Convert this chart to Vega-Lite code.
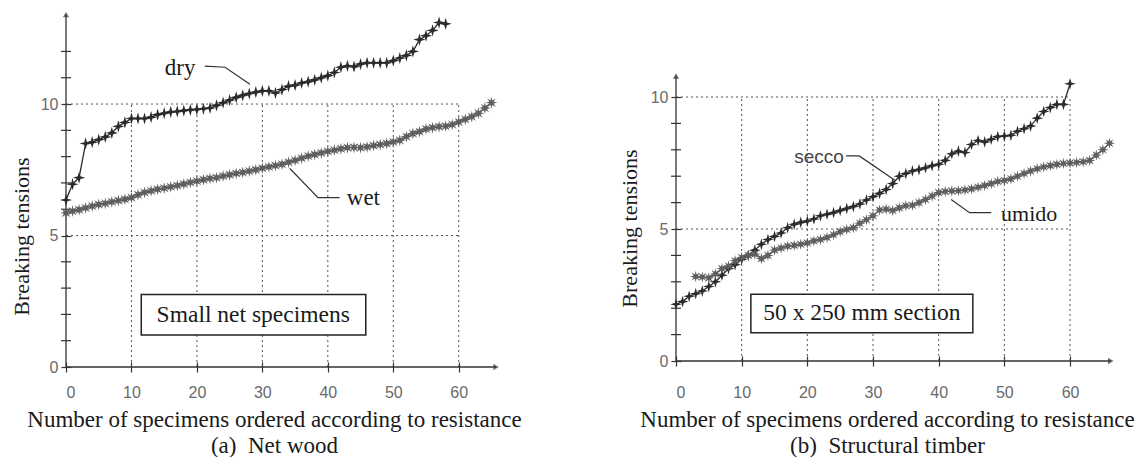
{
"$schema":"https://vega.github.io/schema/vega-lite/v6.json",
"background":"white",
"padding":{"left":10,"top":11,"right":0,"bottom":0},
"spacing":96,
"config":{"view":{"stroke":null},"font":"Liberation Serif"},
"resolve":{"scale":{"x":"independent","y":"independent","color":"independent","shape":"independent"}},
"datasets":{
"L":[
{"s":"dry","x":0,"y":6.35},{"s":"dry","x":1,"y":6.95},{"s":"dry","x":2,"y":7.2},{"s":"dry","x":3,"y":8.5},{"s":"dry","x":4,"y":8.55},{"s":"dry","x":5,"y":8.65},{"s":"dry","x":6,"y":8.75},{"s":"dry","x":7,"y":8.9},{"s":"dry","x":8,"y":9.15},{"s":"dry","x":9,"y":9.3},{"s":"dry","x":10,"y":9.45},{"s":"dry","x":11,"y":9.45},{"s":"dry","x":12,"y":9.45},{"s":"dry","x":13,"y":9.5},{"s":"dry","x":14,"y":9.6},{"s":"dry","x":15,"y":9.65},{"s":"dry","x":16,"y":9.7},{"s":"dry","x":17,"y":9.72},{"s":"dry","x":18,"y":9.75},{"s":"dry","x":19,"y":9.78},{"s":"dry","x":20,"y":9.8},{"s":"dry","x":21,"y":9.82},{"s":"dry","x":22,"y":9.85},{"s":"dry","x":23,"y":9.95},{"s":"dry","x":24,"y":10.05},{"s":"dry","x":25,"y":10.15},{"s":"dry","x":26,"y":10.25},{"s":"dry","x":27,"y":10.33},{"s":"dry","x":28,"y":10.4},{"s":"dry","x":29,"y":10.45},{"s":"dry","x":30,"y":10.5},{"s":"dry","x":31,"y":10.5},{"s":"dry","x":32,"y":10.42},{"s":"dry","x":33,"y":10.55},{"s":"dry","x":34,"y":10.68},{"s":"dry","x":35,"y":10.72},{"s":"dry","x":36,"y":10.8},{"s":"dry","x":37,"y":10.85},{"s":"dry","x":38,"y":10.92},{"s":"dry","x":39,"y":11.0},{"s":"dry","x":40,"y":11.08},{"s":"dry","x":41,"y":11.2},{"s":"dry","x":42,"y":11.4},{"s":"dry","x":43,"y":11.45},{"s":"dry","x":44,"y":11.42},{"s":"dry","x":45,"y":11.52},{"s":"dry","x":46,"y":11.57},{"s":"dry","x":47,"y":11.57},{"s":"dry","x":48,"y":11.57},{"s":"dry","x":49,"y":11.57},{"s":"dry","x":50,"y":11.65},{"s":"dry","x":51,"y":11.75},{"s":"dry","x":52,"y":11.85},{"s":"dry","x":53,"y":12.0},{"s":"dry","x":54,"y":12.45},{"s":"dry","x":55,"y":12.6},{"s":"dry","x":56,"y":12.8},{"s":"dry","x":57,"y":13.1},{"s":"dry","x":58,"y":13.05},
{"s":"wet","x":0,"y":5.86},{"s":"wet","x":1,"y":5.93},{"s":"wet","x":2,"y":5.98},{"s":"wet","x":3,"y":6.05},{"s":"wet","x":4,"y":6.12},{"s":"wet","x":5,"y":6.18},{"s":"wet","x":6,"y":6.22},{"s":"wet","x":7,"y":6.28},{"s":"wet","x":8,"y":6.33},{"s":"wet","x":9,"y":6.38},{"s":"wet","x":10,"y":6.44},{"s":"wet","x":11,"y":6.55},{"s":"wet","x":12,"y":6.64},{"s":"wet","x":13,"y":6.7},{"s":"wet","x":14,"y":6.76},{"s":"wet","x":15,"y":6.8},{"s":"wet","x":16,"y":6.85},{"s":"wet","x":17,"y":6.9},{"s":"wet","x":18,"y":6.96},{"s":"wet","x":19,"y":7.02},{"s":"wet","x":20,"y":7.07},{"s":"wet","x":21,"y":7.12},{"s":"wet","x":22,"y":7.17},{"s":"wet","x":23,"y":7.2},{"s":"wet","x":24,"y":7.26},{"s":"wet","x":25,"y":7.31},{"s":"wet","x":26,"y":7.36},{"s":"wet","x":27,"y":7.4},{"s":"wet","x":28,"y":7.45},{"s":"wet","x":29,"y":7.5},{"s":"wet","x":30,"y":7.56},{"s":"wet","x":31,"y":7.61},{"s":"wet","x":32,"y":7.66},{"s":"wet","x":33,"y":7.71},{"s":"wet","x":34,"y":7.79},{"s":"wet","x":35,"y":7.86},{"s":"wet","x":36,"y":7.94},{"s":"wet","x":37,"y":8.02},{"s":"wet","x":38,"y":8.08},{"s":"wet","x":39,"y":8.14},{"s":"wet","x":40,"y":8.2},{"s":"wet","x":41,"y":8.25},{"s":"wet","x":42,"y":8.3},{"s":"wet","x":43,"y":8.34},{"s":"wet","x":44,"y":8.35},{"s":"wet","x":45,"y":8.34},{"s":"wet","x":46,"y":8.37},{"s":"wet","x":47,"y":8.42},{"s":"wet","x":48,"y":8.46},{"s":"wet","x":49,"y":8.5},{"s":"wet","x":50,"y":8.56},{"s":"wet","x":51,"y":8.62},{"s":"wet","x":52,"y":8.76},{"s":"wet","x":53,"y":8.88},{"s":"wet","x":54,"y":8.95},{"s":"wet","x":55,"y":9.05},{"s":"wet","x":56,"y":9.1},{"s":"wet","x":57,"y":9.14},{"s":"wet","x":58,"y":9.16},{"s":"wet","x":59,"y":9.22},{"s":"wet","x":60,"y":9.32},{"s":"wet","x":61,"y":9.42},{"s":"wet","x":62,"y":9.52},{"s":"wet","x":63,"y":9.65},{"s":"wet","x":64,"y":9.85},{"s":"wet","x":65,"y":10.05}
],
"R":[
{"s":"secco","x":0,"y":2.15},{"s":"secco","x":1,"y":2.25},{"s":"secco","x":2,"y":2.45},{"s":"secco","x":3,"y":2.55},{"s":"secco","x":4,"y":2.65},{"s":"secco","x":5,"y":2.82},{"s":"secco","x":6,"y":3.0},{"s":"secco","x":7,"y":3.25},{"s":"secco","x":8,"y":3.5},{"s":"secco","x":9,"y":3.65},{"s":"secco","x":10,"y":3.85},{"s":"secco","x":11,"y":4.0},{"s":"secco","x":12,"y":4.2},{"s":"secco","x":13,"y":4.42},{"s":"secco","x":14,"y":4.6},{"s":"secco","x":15,"y":4.72},{"s":"secco","x":16,"y":4.85},{"s":"secco","x":17,"y":5.05},{"s":"secco","x":18,"y":5.18},{"s":"secco","x":19,"y":5.25},{"s":"secco","x":20,"y":5.3},{"s":"secco","x":21,"y":5.38},{"s":"secco","x":22,"y":5.5},{"s":"secco","x":23,"y":5.56},{"s":"secco","x":24,"y":5.62},{"s":"secco","x":25,"y":5.7},{"s":"secco","x":26,"y":5.78},{"s":"secco","x":27,"y":5.85},{"s":"secco","x":28,"y":5.95},{"s":"secco","x":29,"y":6.1},{"s":"secco","x":30,"y":6.22},{"s":"secco","x":31,"y":6.35},{"s":"secco","x":32,"y":6.5},{"s":"secco","x":33,"y":6.72},{"s":"secco","x":34,"y":7.0},{"s":"secco","x":35,"y":7.1},{"s":"secco","x":36,"y":7.2},{"s":"secco","x":37,"y":7.25},{"s":"secco","x":38,"y":7.32},{"s":"secco","x":39,"y":7.4},{"s":"secco","x":40,"y":7.45},{"s":"secco","x":41,"y":7.6},{"s":"secco","x":42,"y":7.85},{"s":"secco","x":43,"y":7.95},{"s":"secco","x":44,"y":7.9},{"s":"secco","x":45,"y":8.2},{"s":"secco","x":46,"y":8.35},{"s":"secco","x":47,"y":8.3},{"s":"secco","x":48,"y":8.4},{"s":"secco","x":49,"y":8.5},{"s":"secco","x":50,"y":8.52},{"s":"secco","x":51,"y":8.55},{"s":"secco","x":52,"y":8.7},{"s":"secco","x":53,"y":8.8},{"s":"secco","x":54,"y":8.9},{"s":"secco","x":55,"y":9.2},{"s":"secco","x":56,"y":9.45},{"s":"secco","x":57,"y":9.6},{"s":"secco","x":58,"y":9.72},{"s":"secco","x":59,"y":9.72},{"s":"secco","x":60,"y":10.5},
{"s":"umido","x":3,"y":3.2},{"s":"umido","x":4,"y":3.18},{"s":"umido","x":5,"y":3.15},{"s":"umido","x":6,"y":3.3},{"s":"umido","x":7,"y":3.5},{"s":"umido","x":8,"y":3.6},{"s":"umido","x":9,"y":3.8},{"s":"umido","x":10,"y":3.92},{"s":"umido","x":11,"y":4.0},{"s":"umido","x":12,"y":4.05},{"s":"umido","x":13,"y":3.88},{"s":"umido","x":14,"y":4.0},{"s":"umido","x":15,"y":4.2},{"s":"umido","x":16,"y":4.28},{"s":"umido","x":17,"y":4.35},{"s":"umido","x":18,"y":4.38},{"s":"umido","x":19,"y":4.42},{"s":"umido","x":20,"y":4.47},{"s":"umido","x":21,"y":4.55},{"s":"umido","x":22,"y":4.6},{"s":"umido","x":23,"y":4.68},{"s":"umido","x":24,"y":4.78},{"s":"umido","x":25,"y":4.9},{"s":"umido","x":26,"y":4.98},{"s":"umido","x":27,"y":5.05},{"s":"umido","x":28,"y":5.22},{"s":"umido","x":29,"y":5.35},{"s":"umido","x":30,"y":5.5},{"s":"umido","x":31,"y":5.72},{"s":"umido","x":32,"y":5.75},{"s":"umido","x":33,"y":5.7},{"s":"umido","x":34,"y":5.8},{"s":"umido","x":35,"y":5.88},{"s":"umido","x":36,"y":5.9},{"s":"umido","x":37,"y":6.0},{"s":"umido","x":38,"y":6.12},{"s":"umido","x":39,"y":6.25},{"s":"umido","x":40,"y":6.38},{"s":"umido","x":41,"y":6.42},{"s":"umido","x":42,"y":6.44},{"s":"umido","x":43,"y":6.45},{"s":"umido","x":44,"y":6.48},{"s":"umido","x":45,"y":6.52},{"s":"umido","x":46,"y":6.58},{"s":"umido","x":47,"y":6.65},{"s":"umido","x":48,"y":6.72},{"s":"umido","x":49,"y":6.8},{"s":"umido","x":50,"y":6.84},{"s":"umido","x":51,"y":6.9},{"s":"umido","x":52,"y":7.0},{"s":"umido","x":53,"y":7.1},{"s":"umido","x":54,"y":7.2},{"s":"umido","x":55,"y":7.28},{"s":"umido","x":56,"y":7.35},{"s":"umido","x":57,"y":7.4},{"s":"umido","x":58,"y":7.45},{"s":"umido","x":59,"y":7.48},{"s":"umido","x":60,"y":7.5},{"s":"umido","x":61,"y":7.52},{"s":"umido","x":62,"y":7.55},{"s":"umido","x":63,"y":7.6},{"s":"umido","x":64,"y":7.8},{"s":"umido","x":65,"y":8.0},{"s":"umido","x":66,"y":8.25}
],
"grid":[{"x":10,"x2":10,"y":0,"y2":10},{"x":20,"x2":20,"y":0,"y2":10},{"x":30,"x2":30,"y":0,"y2":10},{"x":40,"x2":40,"y":0,"y2":10},{"x":50,"x2":50,"y":0,"y2":10},{"x":60,"x2":60,"y":0,"y2":10},{"x":0,"x2":60,"y":5,"y2":5},{"x":0,"x2":60,"y":10,"y2":10}],
"mtL":[{"x":0,"y":1},{"x":0,"y":2},{"x":0,"y":3},{"x":0,"y":4},{"x":0,"y":6},{"x":0,"y":7},{"x":0,"y":8},{"x":0,"y":9},{"x":0,"y":11},{"x":0,"y":12}],
"mtR":[{"x":0,"y":1},{"x":0,"y":2},{"x":0,"y":3},{"x":0,"y":4},{"x":0,"y":6},{"x":0,"y":7},{"x":0,"y":8},{"x":0,"y":9}],
"axL":[{"x":0,"x2":0,"y":0,"y2":13.4},{"x":0,"x2":65.7,"y":0,"y2":0}],
"axR":[{"x":0,"x2":0,"y":0,"y2":10.8},{"x":0,"x2":66.2,"y":0,"y2":0}],
"arL":[{"x":0,"y":13.4,"shape":"triangle-up"},{"x":65.7,"y":0,"shape":"triangle-right"}],
"arR":[{"x":0,"y":10.8,"shape":"triangle-up"},{"x":66.2,"y":0,"shape":"triangle-right"}],
"boxL":[{"x":11.5,"x2":45.8,"y":1.22,"y2":2.76,"tx":28.6,"ty":1.99,"t":"Small net specimens"}],
"boxR":[{"x":11.4,"x2":45.2,"y":1.07,"y2":2.53,"tx":28.3,"ty":1.8,"t":"50 x 250 mm section"}],
"ldL":[{"id":"d","o":0,"x":21.2,"y":11.44},{"id":"d","o":1,"x":24.3,"y":11.4},{"id":"d","o":2,"x":28.1,"y":10.75},{"id":"w","o":0,"x":34.2,"y":7.55},{"id":"w","o":1,"x":38.5,"y":6.44},{"id":"w","o":2,"x":41.8,"y":6.44}],
"ldR":[{"id":"s","o":0,"x":25.9,"y":7.77},{"id":"s","o":1,"x":27.9,"y":7.77},{"id":"s","o":2,"x":33.5,"y":6.82},{"id":"u","o":0,"x":41.9,"y":6.12},{"id":"u","o":1,"x":44.7,"y":5.62},{"id":"u","o":2,"x":48,"y":5.62}],
"labL":[{"x":15.1,"y":11.38,"t":"dry"},{"x":42.9,"y":6.44,"t":"wet"}],
"labR":[{"x":49.5,"y":5.56,"t":"umido"}],
"labR2":[{"x":18,"y":7.73,"t":"secco"}]
},
"hconcat":[
{
"width":432,"height":355,
"layer":[
{"data":{"name":"grid"},"mark":{"type":"rule","strokeDash":[2,3],"color":"#555","strokeWidth":1},
"encoding":{
"x":{"field":"x","type":"quantitative","scale":{"domain":[0,66],"nice":false,"zero":false},
"axis":{"values":[0,10,20,30,40,50,60],"labelOverlap":false,"offset":-5,"tickSize":10,"domain":false,"grid":false,"labelPadding":12,"labelFont":"Liberation Sans","labelFontSize":16,"labelColor":"#6a6a6a","tickColor":"#333","tickWidth":1.2,"title":["Number of specimens ordered according to resistance","(a)\u00a0\u00a0Net wood"],"titleFont":"Liberation Serif","titleFontSize":23,"titleFontWeight":"normal","titleColor":"#1a1a1a","titlePadding":8,"titleLineHeight":26,"titleX":208}},
"x2":{"field":"x2"},
"y":{"field":"y","type":"quantitative","scale":{"domain":[0,13.5],"nice":false,"zero":false},
"axis":{"values":[0,5,10],"labelOverlap":false,"offset":-5,"tickSize":10,"domain":false,"grid":false,"labelPadding":3,"labelFont":"Liberation Sans","labelFontSize":16,"labelColor":"#6a6a6a","tickColor":"#333","tickWidth":1.2,"title":"Breaking tensions","titleFont":"Liberation Serif","titleFontSize":22,"titleFontWeight":"normal","titleColor":"#1a1a1a","titleX":-50,"titleY":224,"titleBaseline":"middle"}},
"y2":{"field":"y2"}}},
{"data":{"name":"axL"},"mark":{"type":"rule","color":"#333","strokeWidth":1.3},
"encoding":{"x":{"field":"x","type":"quantitative","scale":{"domain":[0,66],"nice":false,"zero":false}},"x2":{"field":"x2"},"y":{"field":"y","type":"quantitative","scale":{"domain":[0,13.5],"nice":false,"zero":false}},"y2":{"field":"y2"}}},
{"data":{"name":"mtL"},"mark":{"type":"tick","orient":"horizontal","size":10,"thickness":1.2,"color":"#333","opacity":1},
"encoding":{"x":{"field":"x","type":"quantitative","scale":{"domain":[0,66],"nice":false,"zero":false}},"y":{"field":"y","type":"quantitative","scale":{"domain":[0,13.5],"nice":false,"zero":false}}}},
{"data":{"name":"arL"},"mark":{"type":"point","filled":true,"color":"#333","size":40,"strokeWidth":0},
"encoding":{"x":{"field":"x","type":"quantitative","scale":{"domain":[0,66],"nice":false,"zero":false}},"y":{"field":"y","type":"quantitative","scale":{"domain":[0,13.5],"nice":false,"zero":false}},"shape":{"field":"shape","type":"nominal","scale":null}}},
{"data":{"name":"L"},"mark":{"type":"line","strokeWidth":1.3},
"encoding":{"x":{"field":"x","type":"quantitative","scale":{"domain":[0,66],"nice":false,"zero":false}},"y":{"field":"y","type":"quantitative","scale":{"domain":[0,13.5],"nice":false,"zero":false}},"color":{"field":"s","type":"nominal","scale":{"domain":["dry","wet"],"range":["#2b2b2b","#5e5e5e"]},"legend":null},"detail":{"field":"s"}}},
{"data":{"name":"L"},"mark":{"type":"point","filled":true,"opacity":1,"strokeWidth":0},
"encoding":{"x":{"field":"x","type":"quantitative","scale":{"domain":[0,66],"nice":false,"zero":false}},"y":{"field":"y","type":"quantitative","scale":{"domain":[0,13.5],"nice":false,"zero":false}},"color":{"field":"s","type":"nominal","scale":{"domain":["dry","wet"],"range":["#2b2b2b","#5e5e5e"]},"legend":null},"shape":{"field":"s","type":"nominal","scale":{"domain":["dry","wet"],"range":["M0,-1L0.22,-0.22L1,0L0.22,0.22L0,1L-0.22,0.22L-1,0L-0.22,-0.22Z","M0,-1L0.15,-0.36L0.71,-0.71L0.36,-0.15L1,0L0.36,0.15L0.71,0.71L0.15,0.36L0,1L-0.15,0.36L-0.71,0.71L-0.36,0.15L-1,0L-0.36,-0.15L-0.71,-0.71L-0.15,-0.36Z"]},"legend":null},"size":{"field":"s","type":"nominal","scale":{"domain":["dry","wet"],"range":[150,130]},"legend":null}}},
{"data":{"name":"boxL"},"mark":{"type":"rect","fill":"white","stroke":"#222","strokeWidth":1.5},
"encoding":{"x":{"field":"x","type":"quantitative","scale":{"domain":[0,66],"nice":false,"zero":false}},"x2":{"field":"x2"},"y":{"field":"y","type":"quantitative","scale":{"domain":[0,13.5],"nice":false,"zero":false}},"y2":{"field":"y2"}}},
{"data":{"name":"boxL"},"mark":{"type":"text","font":"Liberation Serif","fontSize":23.5,"color":"#1a1a1a","align":"center","baseline":"middle"},
"encoding":{"x":{"field":"tx","type":"quantitative","scale":{"domain":[0,66],"nice":false,"zero":false}},"y":{"field":"ty","type":"quantitative","scale":{"domain":[0,13.5],"nice":false,"zero":false}},"text":{"field":"t"}}},
{"data":{"name":"ldL"},"mark":{"type":"line","color":"#333","strokeWidth":1.2},
"encoding":{"x":{"field":"x","type":"quantitative","scale":{"domain":[0,66],"nice":false,"zero":false}},"y":{"field":"y","type":"quantitative","scale":{"domain":[0,13.5],"nice":false,"zero":false}},"detail":{"field":"id"},"order":{"field":"o"}}},
{"data":{"name":"labL"},"mark":{"type":"text","font":"Liberation Serif","fontSize":23,"color":"#1a1a1a","align":"left","baseline":"middle"},
"encoding":{"x":{"field":"x","type":"quantitative","scale":{"domain":[0,66],"nice":false,"zero":false}},"y":{"field":"y","type":"quantitative","scale":{"domain":[0,13.5],"nice":false,"zero":false}},"text":{"field":"t"}}}
]
},
{
"width":440,"height":355,
"layer":[
{"data":{"name":"grid"},"mark":{"type":"rule","strokeDash":[2,3],"color":"#555","strokeWidth":1},
"encoding":{
"x":{"field":"x","type":"quantitative","scale":{"domain":[0,67],"nice":false,"zero":false},
"axis":{"values":[0,10,20,30,40,50,60],"labelOverlap":false,"offset":-11,"tickSize":10,"domain":false,"grid":false,"labelPadding":18,"labelFont":"Liberation Sans","labelFontSize":16,"labelColor":"#6a6a6a","tickColor":"#333","tickWidth":1.2,"title":["Number of specimens ordered according to resistance","(b)\u00a0\u00a0Structural timber"],"titleFont":"Liberation Serif","titleFontSize":23,"titleFontWeight":"normal","titleColor":"#1a1a1a","titlePadding":8,"titleLineHeight":26,"titleX":211}},
"x2":{"field":"x2"},
"y":{"field":"y","type":"quantitative","scale":{"domain":[-0.227,13.22],"nice":false,"zero":false},
"axis":{"values":[0,5,10],"labelOverlap":false,"offset":-5,"tickSize":10,"domain":false,"grid":false,"labelPadding":3,"labelFont":"Liberation Sans","labelFontSize":16,"labelColor":"#6a6a6a","tickColor":"#333","tickWidth":1.2,"title":"Breaking tensions","titleFont":"Liberation Serif","titleFontSize":22,"titleFontWeight":"normal","titleColor":"#1a1a1a","titleX":-52,"titleY":216,"titleBaseline":"middle"}},
"y2":{"field":"y2"}}},
{"data":{"name":"axR"},"mark":{"type":"rule","color":"#333","strokeWidth":1.3},
"encoding":{"x":{"field":"x","type":"quantitative","scale":{"domain":[0,67],"nice":false,"zero":false}},"x2":{"field":"x2"},"y":{"field":"y","type":"quantitative","scale":{"domain":[-0.227,13.22],"nice":false,"zero":false}},"y2":{"field":"y2"}}},
{"data":{"name":"mtR"},"mark":{"type":"tick","orient":"horizontal","size":10,"thickness":1.2,"color":"#333","opacity":1},
"encoding":{"x":{"field":"x","type":"quantitative","scale":{"domain":[0,67],"nice":false,"zero":false}},"y":{"field":"y","type":"quantitative","scale":{"domain":[-0.227,13.22],"nice":false,"zero":false}}}},
{"data":{"name":"arR"},"mark":{"type":"point","filled":true,"color":"#333","size":40,"strokeWidth":0},
"encoding":{"x":{"field":"x","type":"quantitative","scale":{"domain":[0,67],"nice":false,"zero":false}},"y":{"field":"y","type":"quantitative","scale":{"domain":[-0.227,13.22],"nice":false,"zero":false}},"shape":{"field":"shape","type":"nominal","scale":null}}},
{"data":{"name":"R"},"mark":{"type":"line","strokeWidth":1.3},
"encoding":{"x":{"field":"x","type":"quantitative","scale":{"domain":[0,67],"nice":false,"zero":false}},"y":{"field":"y","type":"quantitative","scale":{"domain":[-0.227,13.22],"nice":false,"zero":false}},"color":{"field":"s","type":"nominal","scale":{"domain":["secco","umido"],"range":["#2b2b2b","#5e5e5e"]},"legend":null},"detail":{"field":"s"}}},
{"data":{"name":"R"},"mark":{"type":"point","filled":true,"opacity":1,"strokeWidth":0},
"encoding":{"x":{"field":"x","type":"quantitative","scale":{"domain":[0,67],"nice":false,"zero":false}},"y":{"field":"y","type":"quantitative","scale":{"domain":[-0.227,13.22],"nice":false,"zero":false}},"color":{"field":"s","type":"nominal","scale":{"domain":["secco","umido"],"range":["#2b2b2b","#5e5e5e"]},"legend":null},"shape":{"field":"s","type":"nominal","scale":{"domain":["secco","umido"],"range":["M0,-1L0.22,-0.22L1,0L0.22,0.22L0,1L-0.22,0.22L-1,0L-0.22,-0.22Z","M0,-1L0.15,-0.36L0.71,-0.71L0.36,-0.15L1,0L0.36,0.15L0.71,0.71L0.15,0.36L0,1L-0.15,0.36L-0.71,0.71L-0.36,0.15L-1,0L-0.36,-0.15L-0.71,-0.71L-0.15,-0.36Z"]},"legend":null},"size":{"field":"s","type":"nominal","scale":{"domain":["secco","umido"],"range":[150,130]},"legend":null}}},
{"data":{"name":"boxR"},"mark":{"type":"rect","fill":"white","stroke":"#222","strokeWidth":1.5},
"encoding":{"x":{"field":"x","type":"quantitative","scale":{"domain":[0,67],"nice":false,"zero":false}},"x2":{"field":"x2"},"y":{"field":"y","type":"quantitative","scale":{"domain":[-0.227,13.22],"nice":false,"zero":false}},"y2":{"field":"y2"}}},
{"data":{"name":"boxR"},"mark":{"type":"text","font":"Liberation Serif","fontSize":23.5,"color":"#1a1a1a","align":"center","baseline":"middle"},
"encoding":{"x":{"field":"tx","type":"quantitative","scale":{"domain":[0,67],"nice":false,"zero":false}},"y":{"field":"ty","type":"quantitative","scale":{"domain":[-0.227,13.22],"nice":false,"zero":false}},"text":{"field":"t"}}},
{"data":{"name":"ldR"},"mark":{"type":"line","color":"#333","strokeWidth":1.2},
"encoding":{"x":{"field":"x","type":"quantitative","scale":{"domain":[0,67],"nice":false,"zero":false}},"y":{"field":"y","type":"quantitative","scale":{"domain":[-0.227,13.22],"nice":false,"zero":false}},"detail":{"field":"id"},"order":{"field":"o"}}},
{"data":{"name":"labR"},"mark":{"type":"text","font":"Liberation Serif","fontSize":22,"color":"#1a1a1a","align":"left","baseline":"middle"},
"encoding":{"x":{"field":"x","type":"quantitative","scale":{"domain":[0,67],"nice":false,"zero":false}},"y":{"field":"y","type":"quantitative","scale":{"domain":[-0.227,13.22],"nice":false,"zero":false}},"text":{"field":"t"}}},
{"data":{"name":"labR2"},"mark":{"type":"text","font":"Liberation Sans","fontSize":19,"color":"#444","align":"left","baseline":"middle"},
"encoding":{"x":{"field":"x","type":"quantitative","scale":{"domain":[0,67],"nice":false,"zero":false}},"y":{"field":"y","type":"quantitative","scale":{"domain":[-0.227,13.22],"nice":false,"zero":false}},"text":{"field":"t"}}}
]
}
]
}
